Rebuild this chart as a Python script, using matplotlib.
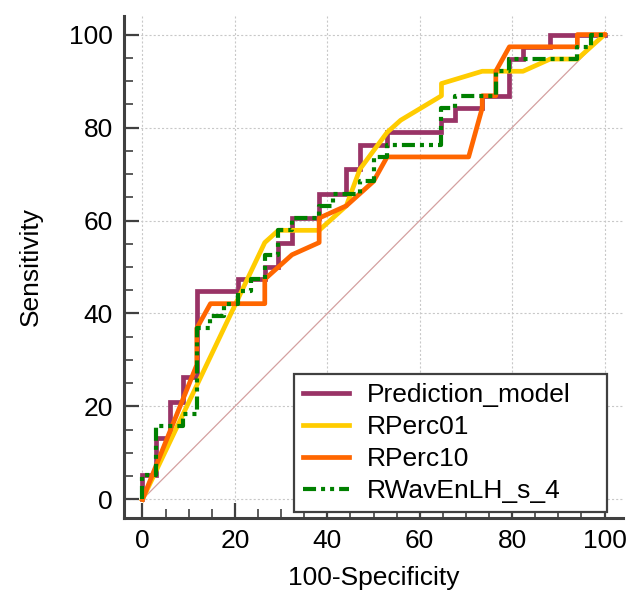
import matplotlib
matplotlib.use("Agg")
import matplotlib.pyplot as plt
from matplotlib.ticker import MultipleLocator

plt.rcParams['font.family'] = ['Liberation Sans', 'DejaVu Sans']
plt.rcParams['lines.scale_dashes'] = False

# ROC curves: 100-Specificity (x) and Sensitivity (y), in %
pred_x = [0, 0, 2.94, 2.94, 5.88, 5.88, 8.82, 8.82, 11.76, 11.76, 20.59, 20.59, 26.47, 26.47,
          29.41, 29.41, 32.35, 32.35, 38.24, 38.24, 44.12, 44.12, 47.06, 47.06, 52.94, 52.94,
          64.71, 64.71, 67.65, 67.65, 73.53, 73.53, 79.41, 79.41, 82.35, 82.35, 88.24, 88.24, 100]
pred_y = [0, 5.26, 5.26, 13.16, 13.16, 21.05, 21.05, 26.32, 26.32, 44.74, 44.74, 47.37, 47.37, 50.0,
          50.0, 55.26, 55.26, 60.53, 60.53, 65.79, 65.79, 71.05, 71.05, 76.32, 76.32, 78.95,
          78.95, 81.58, 81.58, 84.21, 84.21, 86.84, 86.84, 94.74, 94.74, 97.37, 97.37, 100, 100]

p01_x = [0, 26.47, 29.41, 38.24, 44.12, 47.06, 52.94, 55.88, 64.71, 64.71, 73.53, 82.35, 88.24, 94.12, 100]
p01_y = [0, 55.26, 57.89, 57.89, 63.16, 71.05, 78.95, 81.58, 86.84, 89.47, 92.11, 92.11, 94.74, 94.74, 100]

p10_x = [0, 11.76, 11.76, 14.71, 26.47, 26.47, 32.35, 38.24, 38.24, 44.12, 47.06, 50.0, 52.94,
         70.59, 73.53, 73.53, 76.47, 76.47, 79.41, 94.12, 94.12, 100]
p10_y = [0, 28.95, 36.84, 42.11, 42.11, 47.37, 52.63, 55.26, 60.53, 63.16, 65.79, 68.42, 73.68,
         73.68, 84.21, 86.84, 86.84, 92.11, 97.37, 97.37, 100, 100]

wav_x = [0, 0, 2.94, 2.94, 8.82, 8.82, 11.76, 11.76, 14.71, 14.71, 17.65, 17.65, 20.59, 20.59,
         23.53, 23.53, 26.47, 26.47, 29.41, 29.41, 32.35, 32.35, 38.24, 38.24, 41.18, 41.18,
         47.06, 47.06, 50.0, 50.0, 52.94, 52.94, 64.71, 64.71, 67.65, 67.65, 76.47, 76.47,
         79.41, 79.41, 94.12, 94.12, 97.06, 97.06, 100]
wav_y = [0, 5.26, 5.26, 15.79, 15.79, 18.42, 18.42, 36.84, 36.84, 39.47, 39.47, 42.11, 42.11, 44.74,
         44.74, 47.37, 47.37, 52.63, 52.63, 57.89, 57.89, 60.53, 60.53, 63.16, 63.16, 65.79,
         65.79, 68.42, 68.42, 73.68, 73.68, 76.32, 76.32, 84.21, 84.21, 86.84, 86.84, 92.11,
         92.11, 94.74, 94.74, 97.37, 97.37, 100, 100]

labels = ["Prediction_model", "RPerc01", "RPerc10", "RWavEnLH_s_4"]
colors = ["#993366", "#FFCC00", "#FF6600", "#008000"]

FS = 19

fig = plt.figure(figsize=(6.29, 5.92), dpi=100)
ax = fig.add_axes([124/629, 1-518/592, 499/629, 502/592])

ax.plot([0, 100], [0, 100], color="#d4a0a0", lw=0.9, zorder=2)
ax.plot(pred_x, pred_y, color=colors[0], lw=3.4, label=labels[0], zorder=3, solid_joinstyle='miter')
ax.plot(p01_x, p01_y, color=colors[1], lw=3.4, label=labels[1], zorder=3)
ax.plot(p10_x, p10_y, color=colors[2], lw=3.4, label=labels[2], zorder=3)
ax.plot(wav_x, wav_y, color=colors[3], lw=3.0, label=labels[3], zorder=4,
        linestyle=(0, (9.4, 3.6, 2.9, 3.6, 2.9, 3.6)), dash_capstyle='butt')

ax.set_xlim(-4, 104)
ax.set_ylim(-4, 104)
ax.xaxis.set_major_locator(MultipleLocator(20))
ax.yaxis.set_major_locator(MultipleLocator(20))
ax.xaxis.set_minor_locator(MultipleLocator(5))
ax.yaxis.set_minor_locator(MultipleLocator(5))
ax.grid(True, which='major', color='#c8c8c8', linestyle=(0, (1.5, 1.5)), lw=0.8, zorder=1)

for s in ['top', 'right']:
    ax.spines[s].set_visible(False)
for s in ['left', 'bottom']:
    ax.spines[s].set_linewidth(2.2)
    ax.spines[s].set_color('#404040')
ax.tick_params(which='major', direction='in', length=10.5, width=1.6, color='#404040',
               labelsize=FS, pad=8)
ax.tick_params(which='minor', direction='in', length=6.5, width=1.2, color='#404040')

ax.set_xlabel("100-Specificity", fontsize=FS, labelpad=9.5)
ax.set_ylabel("Sensitivity", fontsize=FS, labelpad=19)

leg = ax.legend(loc='lower left', bbox_to_anchor=(170/499, 0.012, 313/499, 0.28),
                mode='expand', borderaxespad=0,
                fontsize=FS, frameon=True, fancybox=False, handlelength=1.75,
                handletextpad=0.65, labelspacing=0.3, borderpad=0.35)
leg.get_frame().set_edgecolor('#404040')
leg.get_frame().set_linewidth(1.6)
leg.get_frame().set_alpha(1)
leg.set_zorder(10)

fig.savefig("out.png", dpi=100)
